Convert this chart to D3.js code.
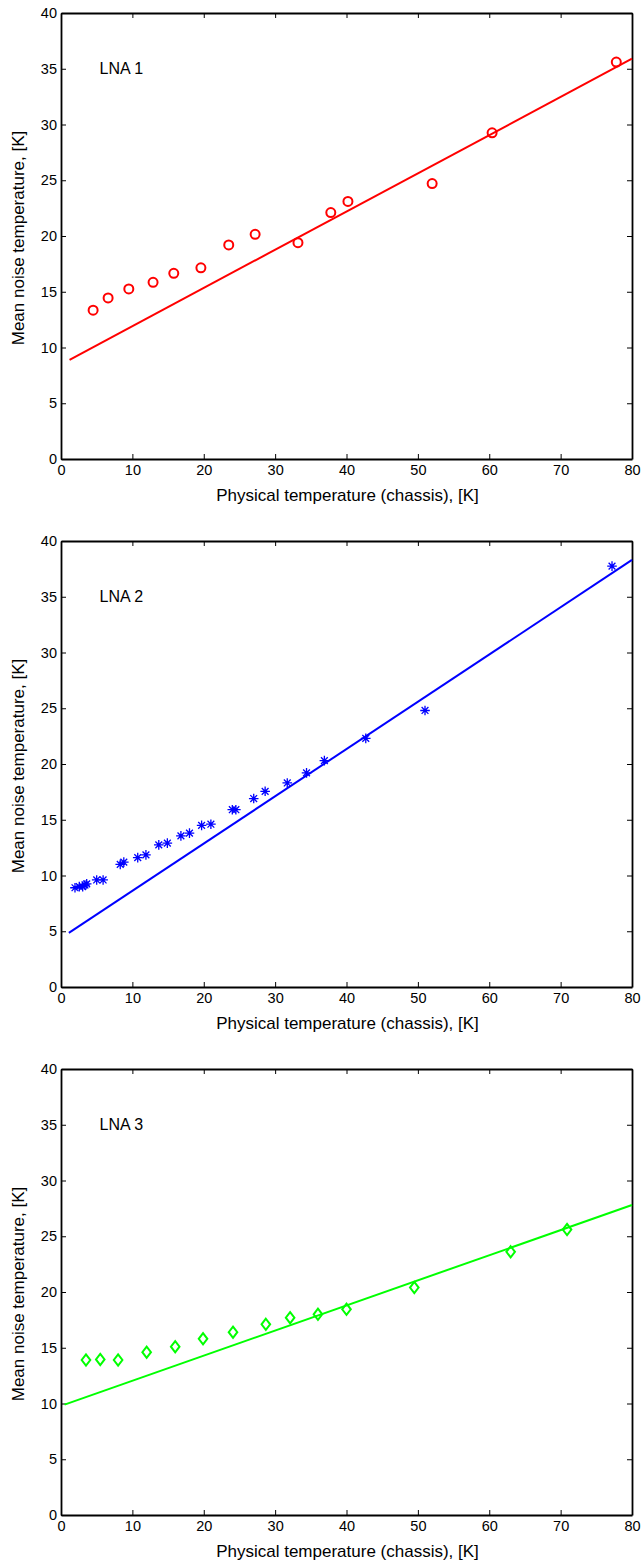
<!DOCTYPE html>
<html>
<head>
<meta charset="utf-8">
<script src="https://cdn.jsdelivr.net/npm/d3@7"></script>
<style>
  body { margin: 0; background: #fff; }
  svg { display: block; font-family: "Liberation Sans", Arial, Helvetica, sans-serif; }
</style>
</head>
<body>
<div id="chart"></div>
<script>
// axis ticks
var xTicks = [0, 10, 20, 30, 40, 50, 60, 70, 80];
var yTicks = [0, 5, 10, 15, 20, 25, 30, 35, 40];

// LNA 1 measurements
var lna1X = [4.5, 6.6, 9.5, 12.9, 15.8, 19.6, 23.5, 27.2, 33.2, 37.8, 40.2, 52.0, 60.4, 77.8];
var lna1Y = [13.35, 14.45, 15.25, 15.85, 16.65, 17.15, 19.2, 20.15, 19.4, 22.1, 23.1, 24.7, 29.25, 35.6];
var lna1FitX = [1.2, 80];
var lna1FitY = [8.9, 35.9];

// LNA 2 measurements
var lna2X = [1.96, 2.56, 3.04, 3.36, 3.6, 5.0, 5.9, 8.3, 8.8, 10.75, 11.9, 13.7, 14.9, 16.8, 18.0, 19.7, 21.0, 24.0, 24.5, 27.0, 28.6, 31.7, 34.4, 36.9, 42.7, 51.0, 77.2];
var lna2Y = [8.9, 9.0, 9.0, 9.15, 9.25, 9.6, 9.6, 11.0, 11.2, 11.6, 11.85, 12.75, 12.9, 13.55, 13.8, 14.5, 14.6, 15.9, 15.9, 16.9, 17.55, 18.3, 19.2, 20.3, 22.3, 24.8, 37.75];
var lna2FitX = [1.1, 80];
var lna2FitY = [4.85, 38.3];

// LNA 3 measurements
var lna3X = [3.5, 5.5, 8.0, 12.0, 16.0, 19.9, 24.1, 28.7, 32.1, 36.0, 40.0, 49.5, 63.0, 70.9];
var lna3Y = [13.9, 13.95, 13.9, 14.6, 15.1, 15.8, 16.4, 17.1, 17.7, 18.0, 18.45, 20.4, 23.6, 25.6];
var lna3FitX = [0.5, 80];
var lna3FitY = [9.9, 27.8];

var panels = [
	{ label: "LNA 1", xs: lna1X, ys: lna1Y, fx: lna1FitX, fy: lna1FitY, color: "#ff0000", marker: "circle", top: 13 },
	{ label: "LNA 2", xs: lna2X, ys: lna2Y, fx: lna2FitX, fy: lna2FitY, color: "#0000ff", marker: "star", top: 541 },
	{ label: "LNA 3", xs: lna3X, ys: lna3Y, fx: lna3FitX, fy: lna3FitY, color: "#00ff00", marker: "diamond", top: 1069 }
];

var width = 641, height = 1561;
var plotLeft = 61, plotRight = 632, plotH = 446;

var svg = d3.select("#chart").append("svg")
	.attr("width", width)
	.attr("height", height);

function markerPath(kind) {
	if (kind == "star") {
		var r = 4.8, k = 3.4;
		return "M" + (-r) + ",0H" + r + "M0," + (-r) + "V" + r +
			"M" + (-k) + "," + (-k) + "L" + k + "," + k + "M" + (-k) + "," + k + "L" + k + "," + (-k);
	}
	if (kind == "diamond") {
		var w = 4.3, h = 5.6;
		return "M0," + (-h) + "L" + w + ",0L0," + h + "L" + (-w) + ",0Z";
	}
	return null;
}

panels.forEach(function(p) {
	var x = d3.scaleLinear().domain([0, 80]).range([plotLeft, plotRight]);
	var y = d3.scaleLinear().domain([0, 40]).range([p.top + plotH, p.top]);
	var g = svg.append("g");

	// axes, ticks pointing inward on all four sides (matlab box)
	g.append("g")
		.attr("transform", "translate(0," + (p.top + plotH) + ")")
		.call(d3.axisBottom(x).tickValues(xTicks).tickSizeInner(-5).tickSizeOuter(0).tickPadding(6));
	g.append("g")
		.attr("transform", "translate(0," + p.top + ")")
		.call(d3.axisTop(x).tickValues(xTicks).tickSizeInner(-5).tickSizeOuter(0).tickFormat(""));
	g.append("g")
		.attr("transform", "translate(" + plotLeft + ",0)")
		.call(d3.axisLeft(y).tickValues(yTicks).tickSizeInner(-5).tickSizeOuter(0).tickPadding(4));
	g.append("g")
		.attr("transform", "translate(" + plotRight + ",0)")
		.call(d3.axisRight(y).tickValues(yTicks).tickSizeInner(-5).tickSizeOuter(0).tickFormat(""));

	g.selectAll(".domain").attr("stroke", "#000").attr("stroke-width", 1.8);
	g.selectAll(".tick line").attr("stroke", "#000").attr("stroke-width", 1);
	g.selectAll(".tick text")
		.attr("fill", "#000")
		.style("font-size", "14.5px")
		.style("font-family", "Liberation Sans, Arial, sans-serif");

	// axis labels
	g.append("text")
		.attr("x", (plotLeft + plotRight) / 2 + 1)
		.attr("y", p.top + plotH + 42)
		.attr("text-anchor", "middle")
		.style("font-size", "17px")
		.text("Physical temperature (chassis), [K]");
	g.append("text")
		.attr("transform", "translate(24," + (p.top + plotH / 2 + 2) + ") rotate(-90)")
		.attr("text-anchor", "middle")
		.style("font-size", "17px")
		.text("Mean noise temperature, [K]");

	// panel tag
	g.append("text")
		.attr("x", x(5.4))
		.attr("y", y(35))
		.attr("dy", "0.35em")
		.style("font-size", "16px")
		.text(p.label);

	// fit line
	var fit = p.fx.map(function(v, i) { return [v, p.fy[i]]; });
	g.append("path")
		.datum(fit)
		.attr("fill", "none")
		.attr("stroke", p.color)
		.attr("stroke-width", 2)
		.attr("d", d3.line()
			.x(function(d) { return x(d[0]); })
			.y(function(d) { return y(d[1]); }));

	// measured points
	var pts = p.xs.map(function(v, i) { return [v, p.ys[i]]; });
	if (p.marker == "circle") {
		g.selectAll(".pt").data(pts).enter().append("circle")
			.attr("cx", function(d) { return x(d[0]); })
			.attr("cy", function(d) { return y(d[1]); })
			.attr("r", 4.5)
			.attr("fill", "none")
			.attr("stroke", p.color)
			.attr("stroke-width", 2);
	} else {
		g.selectAll(".pt").data(pts).enter().append("path")
			.attr("transform", function(d) { return "translate(" + x(d[0]) + "," + y(d[1]) + ")"; })
			.attr("d", markerPath(p.marker))
			.attr("fill", "none")
			.attr("stroke", p.color)
			.attr("stroke-width", p.marker == "star" ? 1.3 : 2);
	}
});
</script>
</body>
</html>
